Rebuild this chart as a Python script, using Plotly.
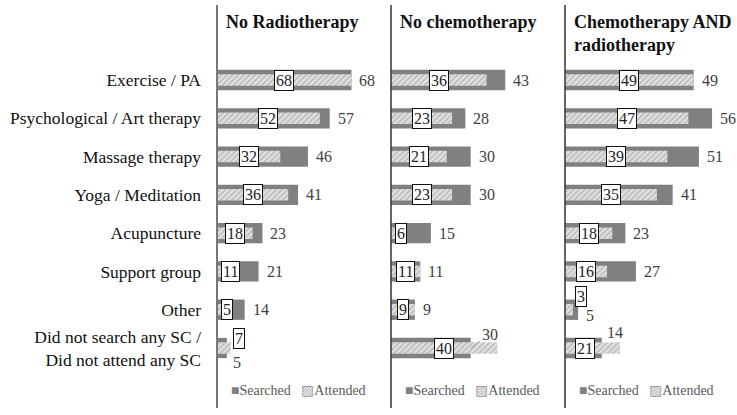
import plotly.graph_objects as go

categories = ["Exercise / PA", "Psychological / Art therapy", "Massage therapy",
              "Yoga / Meditation", "Acupuncture", "Support group", "Other",
              "Did not search any SC /<br>Did not attend any SC"]
panel_titles = ["No Radiotherapy", "No chemotherapy", "Chemotherapy AND<br>radiotherapy"]

no_radio_searched = [68, 57, 46, 41, 23, 21, 14, 5]
no_radio_attended = [68, 52, 32, 36, 18, 11, 5, 7]
no_chemo_searched = [43, 28, 30, 30, 15, 11, 9, 30]
no_chemo_attended = [36, 23, 21, 23, 6, 11, 9, 40]
chemo_radio_searched = [49, 56, 51, 41, 23, 27, 5, 14]
chemo_radio_attended = [49, 47, 39, 35, 18, 16, 3, 21]

searched = [no_radio_searched, no_chemo_searched, chemo_radio_searched]
attended = [no_radio_attended, no_chemo_attended, chemo_radio_attended]

W, H = 737, 415
axis_px = [217, 391, 565]
panel_w = 174
x_ranges = [88, 65.5, 65.5]

SERIF = "Liberation Serif, Times New Roman, serif"
SEARCH_COL = "#808080"

fig = go.Figure()
annotations = []
shapes = []

# special label tweaks (pixel offsets) for crowded rows
search_label_tweak = {(0, 7): dict(xshift=4, yshift=-14),
                      (2, 6): dict(xshift=6, yshift=-6),
                      (2, 7): dict(xshift=3, yshift=16)}
box_tweak = {(0, 7): dict(mode="end", xshift=2, yshift=10),
             (2, 6): dict(mode="end", xshift=2, yshift=13),
             (2, 7): dict(mode="center", xshift=-8, yshift=0)}

for p in range(3):
    xa = "x" if p == 0 else f"x{p+1}"
    ya = "y" if p == 0 else f"y{p+1}"
    fig.add_trace(go.Bar(x=searched[p], y=categories, orientation="h",
                         marker=dict(color=SEARCH_COL, line=dict(width=0)),
                         width=0.53, xaxis=xa, yaxis=ya, showlegend=False,
                         name="Searched", hoverinfo="skip"))
    fig.add_trace(go.Bar(x=attended[p], y=categories, orientation="h",
                         marker=dict(color="#e0e0e0", line=dict(width=0),
                                     pattern=dict(shape="/", fgcolor="#8c8c8c",
                                                  bgcolor="#e0e0e0", size=4,
                                                  solidity=0.35)),
                         width=0.30, xaxis=xa, yaxis=ya, showlegend=False,
                         name="Attended", hoverinfo="skip"))
    scale = panel_w / x_ranges[p]
    for i, cat in enumerate(categories):
        s = searched[p][i]
        a = attended[p][i]
        # searched value label
        if (p, i) == (1, 7):
            annotations.append(dict(x=s, y=cat, xref=xa, yref=ya, text=str(s),
                                    showarrow=True, arrowhead=0, arrowwidth=0.8,
                                    arrowcolor="#999999", ax=19, ay=-14,
                                    font=dict(family=SERIF, size=16, color="#404040")))
        else:
            tw = search_label_tweak.get((p, i), dict(xshift=6, yshift=0))
            annotations.append(dict(x=s, y=cat, xref=xa, yref=ya, text=str(s),
                                    showarrow=False, xanchor="left",
                                    xshift=tw["xshift"], yshift=tw["yshift"],
                                    font=dict(family=SERIF, size=16, color="#404040")))
        # boxed attended label
        hw = 7 if a < 10 else 10
        bt = box_tweak.get((p, i))
        if bt and bt["mode"] == "end":
            bx, xanchor, xshift = a, "left", bt["xshift"]
        else:
            if a / 2 * scale < hw + 3:
                bx, xanchor, xshift = 0, "center", hw + 3
            else:
                bx, xanchor, xshift = a / 2, "center", 0
            if bt:
                xshift += bt["xshift"]
        yshift = bt["yshift"] if bt else 0
        annotations.append(dict(x=bx, y=cat, xref=xa, yref=ya, text=str(a),
                                showarrow=False, xanchor=xanchor, xshift=xshift,
                                yshift=yshift, bgcolor="white", bordercolor="#111111",
                                borderwidth=1, borderpad=1,
                                font=dict(family=SERIF, size=16, color="#222222")))
    # panel title
    annotations.append(dict(x=(axis_px[p] + 7) / W, y=1 - 10 / H, xref="paper", yref="paper",
                            text=f"<b>{panel_titles[p]}</b>", showarrow=False,
                            xanchor="left", yanchor="top", align="left",
                            font=dict(family=SERIF, size=18, color="#111111")))
    # legend
    annotations.append(dict(x=(axis_px[p] + 12) / W, y=1 - 390 / H, xref="paper", yref="paper",
                            text=(f'<span style="color:{SEARCH_COL}">■</span>Searched'
                                  '&nbsp;&nbsp;&nbsp;<span style="color:#9a9a9a">▨</span>Attended'),
                            showarrow=False, xanchor="left", yanchor="middle",
                            font=dict(family=SERIF, size=14, color="#595959")))
    # vertical axis line
    shapes.append(dict(type="line", xref="paper", yref="paper",
                       x0=axis_px[p] / W, x1=axis_px[p] / W,
                       y0=1 - 408 / H, y1=1 - 5 / H,
                       line=dict(color="#777777" if p == 0 else "#333333",
                                 width=2 if p == 0 else 1.5)))

layout = dict(width=W, height=H, margin=dict(l=0, r=0, t=0, b=0),
              paper_bgcolor="white", plot_bgcolor="white", barmode="overlay",
              annotations=annotations, shapes=shapes, showlegend=False,
              hovermode=False)
yrange = [8.75, -2.09]
for p in range(3):
    xk = "xaxis" if p == 0 else f"xaxis{p+1}"
    yk = "yaxis" if p == 0 else f"yaxis{p+1}"
    d0 = axis_px[p] / W
    d1 = min(1.0, (axis_px[p] + panel_w) / W)
    layout[xk] = dict(domain=[d0, d1], range=[0, x_ranges[p]], visible=False,
                      anchor="y" if p == 0 else f"y{p+1}", fixedrange=True)
    layout[yk] = dict(domain=[0, 1], type="category", categoryarray=categories,
                      categoryorder="array", range=yrange,
                      anchor="x" if p == 0 else f"x{p+1}",
                      showgrid=False, zeroline=False, showline=False,
                      showticklabels=(p == 0), ticks="", automargin=False,
                      ticklabelstandoff=15, fixedrange=True,
                      tickfont=dict(family=SERIF, size=17.5, color="#111111"))
fig.update_layout(**layout)
fig.write_html("out.html", config={"displayModeBar": False},
               post_script="document.body.style.margin='0';document.body.style.overflow='hidden';")
